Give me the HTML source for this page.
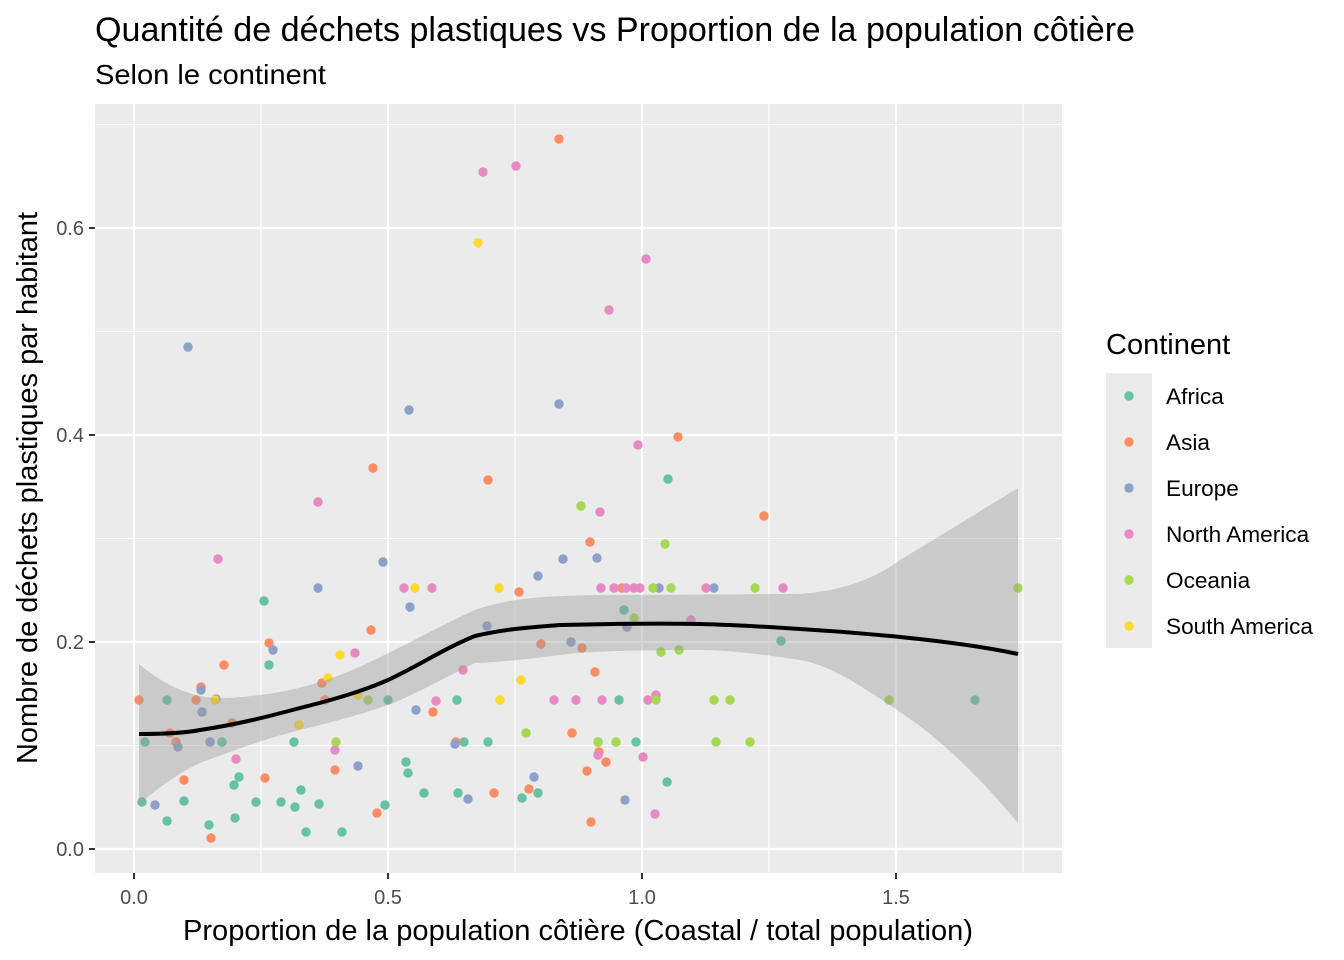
<!DOCTYPE html>
<html><head><meta charset="utf-8"><style>body{margin:0;background:#fff}svg{display:block}text{font-family:"Liberation Sans",Arial,sans-serif}</style></head>
<body>
<svg id="s" width="1344" height="960" xmlns="http://www.w3.org/2000/svg">
<rect width="1344" height="960" fill="#fff"/>
<rect x="95" y="104" width="967" height="769" fill="#EBEBEB"/>
<g stroke="#fff" stroke-width="1.1">
<line x1="95" x2="1062" y1="745.5" y2="745.5"/><line x1="95" x2="1062" y1="538.5" y2="538.5"/><line x1="95" x2="1062" y1="331.5" y2="331.5"/><line x1="95" x2="1062" y1="124.5" y2="124.5"/>
<line y1="104" y2="873" x1="261" x2="261"/><line y1="104" y2="873" x1="515" x2="515"/><line y1="104" y2="873" x1="769" x2="769"/><line y1="104" y2="873" x1="1023" x2="1023"/>
</g>
<g stroke="#fff" stroke-width="2.2">
<line x1="95" x2="1062" y1="849" y2="849"/><line x1="95" x2="1062" y1="642" y2="642"/><line x1="95" x2="1062" y1="435" y2="435"/><line x1="95" x2="1062" y1="228" y2="228"/>
<line y1="104" y2="873" x1="134" x2="134"/><line y1="104" y2="873" x1="388" x2="388"/><line y1="104" y2="873" x1="642" x2="642"/><line y1="104" y2="873" x1="896" x2="896"/>
</g>
<g id="pts"></g>
<path d="M139,664 C170,690 200,700 230,698 C270,695 300,690 340,675 C388,656 430,630 475,610 C510,598 540,596 600,595 C700,595 760,594 800,594 C850,590 880,575 900,560 C950,530 990,505 1018,488 L1018,823 C990,790 950,745 900,712 C860,685 830,665 800,660 C760,654 730,650 700,650 C620,650 580,652 560,655 C520,660 500,662 475,663 C440,680 410,697 388,705 C350,718 320,725 300,730 C260,740 230,752 200,763 C175,775 155,790 139,805 Z" fill="#999" fill-opacity="0.4"/>
<path d="M139,734 C170,734 190,732 200,730 C240,724 270,716 300,708 C340,698 365,690 388,680 C420,665 445,648 475,636 C500,630 520,628 560,625 C600,624 650,623 700,624 C740,625 770,627 800,629 C850,632 880,635 900,637 C950,642 990,648 1018,654" fill="none" stroke="#000" stroke-width="4"/>
<g font-size="20" fill="#4D4D4D" text-anchor="end">
<text x="84" y="856">0.0</text><text x="84" y="649">0.2</text><text x="84" y="442">0.4</text><text x="84" y="235">0.6</text>
</g>
<g font-size="20" fill="#4D4D4D" text-anchor="middle">
<text x="134" y="904">0.0</text><text x="388" y="904">0.5</text><text x="642" y="904">1.0</text><text x="896" y="904">1.5</text>
</g>
<g stroke="#333" stroke-width="2"><line x1="89" x2="95" y1="849" y2="849"/><line x1="89" x2="95" y1="642" y2="642"/><line x1="89" x2="95" y1="435" y2="435"/><line x1="89" x2="95" y1="228" y2="228"/>
<line y1="873" y2="879" x1="134" x2="134"/><line y1="873" y2="879" x1="388" x2="388"/><line y1="873" y2="879" x1="642" x2="642"/><line y1="873" y2="879" x1="896" x2="896"/></g>
<text x="95" y="41" font-size="34" textLength="1040" lengthAdjust="spacingAndGlyphs">Quantité de déchets plastiques vs Proportion de la population côtière</text>
<text x="95" y="84" font-size="28" textLength="231" lengthAdjust="spacingAndGlyphs">Selon le continent</text>
<text x="578" y="940" font-size="29" text-anchor="middle" textLength="790" lengthAdjust="spacingAndGlyphs">Proportion de la population côtière (Coastal / total population)</text>
<text transform="translate(37,488) rotate(-90)" font-size="29" text-anchor="middle" textLength="552" lengthAdjust="spacingAndGlyphs">Nombre de déchets plastiques par habitant</text>
<text x="1106" y="354" font-size="29">Continent</text>
<rect x="1106" y="373" width="46" height="275" fill="#EBEBEB"/>
<g id="leg" font-size="22.6"></g>
</svg>
<script>
var C={A:"#66C2A5",O:"#FC8D62",B:"#8DA0CB",P:"#E78AC3",G:"#A6D854",Y:"#FFD92F"};
var D={A:[142,802,145,742,167,700,167,821,184,801,209,825,222,742,234,785,235,818,239,777,256,802,264,601,269,665,281,802,294,742,295,807,301,790,306,832,319,804,342,832,385,805,388,700,406,762,408,773,424,793,457,700,458,793,464,742,488,742,522,798,538,793,624,610,619,700,636,742,668,479,667,782,781,641,975,700,598,742],
O:[139,700,170,733,176,742,184,780,196,700,201,687,224,665,232,723,265,778,269,643,322,683,325,700,335,770,371,630,373,468,377,813,433,712,456,742,488,480,494,793,519,592,529,789,541,644,559,139,572,733,582,648,587,771,590,542,591,822,595,672,599,752,606,762,622,588,678,437,764,516,211,838],
B:[155,805,178,747,188,347,201,690,202,712,210,742,216,699,273,650,318,588,358,766,383,562,409,410,410,607,416,710,455,744,468,799,487,626,534,777,538,576,559,404,563,559,571,642,597,558,625,800,627,627,659,588,714,588],
P:[218,559,236,759,318,502,335,750,355,653,404,588,432,588,436,701,463,670,483,172,516,166,554,700,576,700,600,512,601,588,602,700,609,310,614,588,626,588,634,588,638,445,640,588,643,757,646,259,648,700,655,814,656,695,691,620,706,588,783,588,598,755],
G:[336,742,368,700,526,733,581,506,598,742,616,742,634,618,653,588,656,700,661,652,665,544,671,588,679,650,714,700,716,742,730,700,750,742,755,588,889,700,1018,588],
Y:[215,700,299,725,328,678,340,655,358,695,478,243,499,588,500,700,521,680,415,588]};
var g=document.getElementById("pts"),h="";
for(var k in D){for(var i=0;i<D[k].length;i+=2)h+='<circle cx="'+D[k][i]+'" cy="'+D[k][i+1]+'" r="4.7" fill="'+C[k]+'"/>';}
g.innerHTML=h;
var L=[["A","Africa"],["O","Asia"],["B","Europe"],["P","North America"],["G","Oceania"],["Y","South America"]],lh="";
L.forEach(function(l,i){var y=396+46*i;lh+='<circle cx="1129" cy="'+y+'" r="4.7" fill="'+C[l[0]]+'"/><text x="1166" y="'+(y+8)+'">'+l[1]+'</text>';});
document.getElementById("leg").innerHTML=lh;
</script>
</body></html>
